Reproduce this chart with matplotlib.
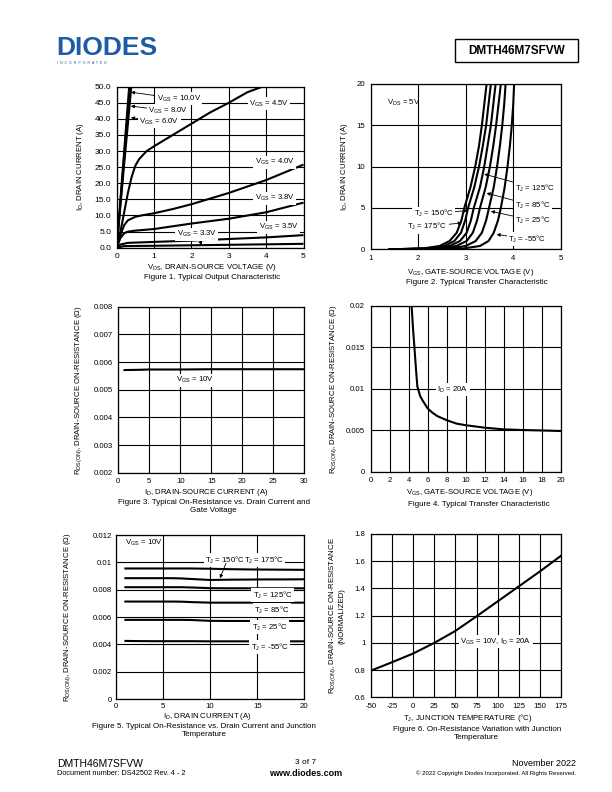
import numpy as np
import matplotlib
matplotlib.use('Agg')
import matplotlib.pyplot as plt
from matplotlib.patches import Rectangle

plt.rcParams['font.family'] = ['Liberation Sans', 'DejaVu Sans']
plt.rcParams['mathtext.fontset'] = 'custom'
plt.rcParams['mathtext.rm'] = 'Liberation Sans'
plt.rcParams['mathtext.it'] = 'Liberation Sans:italic'
plt.rcParams['mathtext.bf'] = 'Liberation Sans:bold'

# ---- Figure 1: output characteristic (VDS, ID) ----
f1_vgs10_v = [0, 0.1, 0.2, 0.3, 0.335]
f1_vgs10_i = [0, 15, 30, 45, 50]
f1_vgs8_v = [0, 0.1, 0.2, 0.3, 0.36]
f1_vgs8_i = [0, 14, 28, 42, 50]
f1_vgs6_v = [0, 0.1, 0.2, 0.3, 0.39]
f1_vgs6_i = [0, 13.2, 26, 38.5, 50]
f1_vgs45_v = [0, 0.1, 0.2, 0.3, 0.4, 0.5, 0.6, 0.8, 1.0, 1.5, 2.0, 2.5, 3.0, 3.5, 3.9]
f1_vgs45_i = [0, 5, 11, 17, 22, 25.5, 27.5, 30, 31.5, 35, 38.5, 42, 45, 48.3, 50]
f1_vgs40_v = [0, 0.1, 0.2, 0.3, 0.5, 0.7, 1.0, 1.5, 2.0, 3.0, 4.0, 5.0]
f1_vgs40_i = [0, 4, 7, 8.5, 9.6, 10.1, 10.7, 12, 13.5, 17, 21, 25.8]
f1_vgs38_v = [0, 0.1, 0.2, 0.3, 0.5, 1.0, 2.0, 3.0, 4.0, 5.0]
f1_vgs38_i = [0, 3, 4.5, 5, 5.3, 5.8, 7.5, 9, 11, 14]
f1_vgs35_v = [0, 0.1, 0.3, 1.0, 2.0, 3.0, 4.0, 5.0]
f1_vgs35_i = [0, 1, 1.5, 1.8, 2.2, 2.7, 3.2, 3.9]
f1_vgs33_v = [0, 0.2, 1.0, 3.0, 5.0]
f1_vgs33_i = [0, 0.5, 0.6, 0.9, 1.2]

# ---- Figure 2: transfer characteristic (VGS for each ID level) ----
f2_id = [0, 0.1, 0.4, 1, 2, 3.5, 5, 7.5, 10, 12.5, 15, 17.5, 20]
f2_vgs_175 = [1.40, 2.10, 2.45, 2.66, 2.81, 2.91, 2.97, 3.10, 3.20, 3.28, 3.34, 3.39, 3.44]
f2_vgs_150 = [1.40, 2.20, 2.55, 2.76, 2.90, 2.99, 3.05, 3.18, 3.28, 3.36, 3.43, 3.48, 3.53]
f2_vgs_125 = [1.40, 2.30, 2.66, 2.88, 3.02, 3.11, 3.17, 3.30, 3.39, 3.46, 3.53, 3.58, 3.63]
f2_vgs_85 = [1.40, 2.45, 2.80, 3.02, 3.15, 3.24, 3.30, 3.42, 3.51, 3.58, 3.64, 3.69, 3.74]
f2_vgs_25 = [1.40, 2.65, 3.00, 3.21, 3.34, 3.43, 3.49, 3.59, 3.66, 3.72, 3.77, 3.81, 3.84]
f2_vgs_m55 = [1.40, 2.95, 3.30, 3.48, 3.59, 3.68, 3.74, 3.82, 3.88, 3.93, 3.97, 4.00, 4.02]

# ---- Figure 3: RDS(on) vs ID ----
f3_id = [1, 3.5, 5, 10, 15, 20, 25, 30]
f3_rds = [0.00571, 0.00572, 0.00573, 0.00573, 0.00574, 0.00574, 0.00574, 0.00574]

# ---- Figure 4: RDS(on) vs VGS ----
f4_vgs = [4.3, 4.45, 4.6, 4.75, 4.9, 5.2, 5.5, 6.0, 6.5, 7, 8, 9, 10, 12, 14, 16, 18, 20]
f4_rds = [0.0200, 0.0172, 0.0149, 0.0125, 0.0103, 0.0091, 0.0085, 0.0076, 0.0071, 0.0067,
          0.0062, 0.0058, 0.0056, 0.0053, 0.0051, 0.00502, 0.00497, 0.0049]

# ---- Figure 5: RDS(on) vs ID and TJ ----
f5_id = [1, 2, 4, 6, 7, 8, 10, 12, 14, 16, 18, 20]
f5_rds_175 = [0.00955, 0.00955, 0.00955, 0.00955, 0.00955, 0.00955, 0.00953, 0.00950, 0.00948, 0.00947, 0.00946, 0.00945]
f5_rds_150 = [0.00884, 0.00884, 0.00884, 0.00884, 0.00882, 0.00878, 0.00871, 0.00873, 0.00874, 0.00875, 0.00875, 0.00876]
f5_rds_125 = [0.00818, 0.00818, 0.00818, 0.00818, 0.00818, 0.00816, 0.00811, 0.00810, 0.00810, 0.00810, 0.00810, 0.00810]
f5_rds_85 = [0.00713, 0.00713, 0.00713, 0.00713, 0.00712, 0.00709, 0.00705, 0.00705, 0.00705, 0.00705, 0.00705, 0.00705]
f5_rds_25 = [0.00579, 0.00579, 0.00579, 0.00579, 0.00579, 0.00578, 0.00572, 0.00571, 0.00571, 0.00571, 0.00571, 0.00571]
f5_rds_m55 = [0.00425, 0.00424, 0.00423, 0.00423, 0.00423, 0.00423, 0.00422, 0.00422, 0.00422, 0.00422, 0.00422, 0.00422]

# ---- Figure 6: normalized RDS(on) vs TJ ----
f6_tj = [-50, -25, 0, 25, 50, 75, 100, 125, 150, 175]
f6_rnorm = [0.796, 0.858, 0.922, 1.0, 1.088, 1.195, 1.305, 1.415, 1.525, 1.64]

W, H = 612, 792
fig = plt.figure(figsize=(W / 100, H / 100), dpi=100)
FS = 5.6
LW = 1.5


def px(x, y):
    return x / W, 1 - y / H


def make_axes(l, t, r, b, xlim, ylim, xticks, yticks, xlabels, ylabels, fs=FS, pad=4):
    ax = fig.add_axes([l / W, 1 - b / H, (r - l) / W, (b - t) / H])
    ax.set_xlim(*xlim)
    ax.set_ylim(*ylim)
    ax.set_xticks(xticks)
    ax.set_yticks(yticks)
    ax.set_xticklabels(xlabels)
    ax.set_yticklabels(ylabels)
    ax.tick_params(length=0, labelsize=fs, pad=pad)
    ax.grid(True, color='black', lw=0.8)
    ax.set_axisbelow(True)
    for s in ax.spines.values():
        s.set_linewidth(0.9)
    return ax


def ftext(x, y, s, **kw):
    kw.setdefault('fontsize', FS)
    kw.setdefault('ha', 'center')
    kw.setdefault('va', 'center')
    fig.text(*px(x, y), s, **kw)


WHITE = dict(facecolor='white', edgecolor='none', pad=1.0)
ARROW = dict(arrowstyle='-|>', color='black', lw=0.6, mutation_scale=5, shrinkA=0, shrinkB=0)

# Figure 1
ax1 = make_axes(116.7, 86.7, 303.5, 247.7, (0, 5), (0, 50), range(0, 6), np.arange(0, 51, 5),
                ['0', '1', '2', '3', '4', '5'], ['%.1f' % v for v in np.arange(0, 51, 5)], fs=6.0)
for v, i in [(f1_vgs10_v, f1_vgs10_i), (f1_vgs8_v, f1_vgs8_i), (f1_vgs6_v, f1_vgs6_i),
             (f1_vgs45_v, f1_vgs45_i), (f1_vgs40_v, f1_vgs40_i), (f1_vgs38_v, f1_vgs38_i),
             (f1_vgs35_v, f1_vgs35_i), (f1_vgs33_v, f1_vgs33_i)]:
    ax1.plot(v, i, color='black', lw=LW, solid_capstyle='butt')
ax1.annotate(r'V$_{\rm GS}$ = 10.0V', xy=(0.38, 48.3), xytext=(1.07, 46.2), fontsize=FS,
             va='center', bbox=WHITE, arrowprops=ARROW)
ax1.annotate(r'V$_{\rm GS}$ = 8.0V', xy=(0.38, 44.0), xytext=(0.85, 42.5), fontsize=FS,
             va='center', bbox=WHITE, arrowprops=ARROW)
ax1.annotate(r'V$_{\rm GS}$ = 6.0V', xy=(0.38, 40.4), xytext=(0.60, 39.1), fontsize=FS,
             va='center', bbox=WHITE, arrowprops=ARROW)
ax1.text(3.54, 44.8, r'V$_{\rm GS}$ = 4.5V', fontsize=FS, va='center', bbox=WHITE)
ax1.text(3.69, 26.5, r'V$_{\rm GS}$ = 4.0V', fontsize=FS, va='center', bbox=WHITE)
ax1.text(3.69, 15.4, r'V$_{\rm GS}$ = 3.8V', fontsize=FS, va='center', bbox=WHITE)
ax1.text(3.80, 6.4, r'V$_{\rm GS}$ = 3.5V', fontsize=FS, va='center', bbox=WHITE)
ax1.annotate(r'V$_{\rm GS}$ = 3.3V', xy=(2.28, 0.8), xytext=(1.61, 4.2), fontsize=FS,
             va='center', bbox=WHITE, arrowprops=ARROW)
ftext(80.7, 167, r'I$_{\rm D}$, DRAIN CURRENT (A)', rotation=90)
ftext(212, 267.7, r'V$_{\rm DS}$, DRAIN-SOURCE VOLTAGE (V)')
ftext(211.7, 277.3, 'Figure 1. Typical Output Characteristic', fontsize=5.8)

# Figure 2
ax2 = make_axes(370.7, 84, 560.7, 249.3, (1, 5), (0, 20), range(1, 6), range(0, 21, 5),
                ['1', '2', '3', '4', '5'], ['0', '5', '10', '15', '20'])
for v in [f2_vgs_175, f2_vgs_150, f2_vgs_125, f2_vgs_85, f2_vgs_25, f2_vgs_m55]:
    ax2.plot(v, f2_id, color='black', lw=LW)
ax2.text(1.34, 17.7, r'V$_{\rm DS}$ = 5V', fontsize=FS, va='center')
ax2.annotate('T$_{\\rm J}$ = 125°C', xy=(3.39, 9.1), xytext=(4.04, 7.4), fontsize=FS,
             va='center', bbox=WHITE, arrowprops=ARROW)
ax2.annotate('T$_{\\rm J}$ = 85°C', xy=(3.44, 6.8), xytext=(4.04, 5.3), fontsize=FS,
             va='center', bbox=WHITE, arrowprops=ARROW)
ax2.annotate('T$_{\\rm J}$ = 25°C', xy=(3.53, 4.6), xytext=(4.04, 3.5), fontsize=FS,
             va='center', bbox=WHITE, arrowprops=ARROW)
ax2.annotate('T$_{\\rm J}$ = -55°C', xy=(3.65, 1.8), xytext=(3.90, 1.25), fontsize=FS,
             va='center', bbox=WHITE, arrowprops=ARROW)
ax2.annotate('T$_{\\rm J}$ = 150°C', xy=(3.04, 4.7), xytext=(2.74, 4.3), fontsize=FS,
             ha='right', va='center', bbox=WHITE, arrowprops=ARROW)
ax2.annotate('T$_{\\rm J}$ = 175°C', xy=(2.92, 3.2), xytext=(2.61, 2.74), fontsize=FS,
             ha='right', va='center', bbox=WHITE, arrowprops=ARROW)
ftext(345, 166.6, r'I$_{\rm D}$, DRAIN CURRENT (A)', rotation=90)
ftext(470.3, 272.3, r'V$_{\rm GS}$, GATE-SOURCE VOLTAGE (V)')
ftext(477, 282.3, 'Figure 2. Typical Transfer Characteristic', fontsize=5.8)

# Figure 3
ax3 = make_axes(118.3, 306.7, 304.3, 472.7, (0, 30), (0.002, 0.008), range(0, 31, 5),
                np.arange(0.002, 0.0081, 0.001), [str(v) for v in range(0, 31, 5)],
                ['0.002', '0.003', '0.004', '0.005', '0.006', '0.007', '0.008'])
ax3.plot(f3_id, f3_rds, color='black', lw=LW)
ax3.text(9.3, 0.00535, r'V$_{\rm GS}$ = 10V', fontsize=FS, va='center', bbox=WHITE)
ftext(78.3, 389.7, r'R$_{\rm DS(ON)}$, DRAIN-SOURCE ON-RESISTANCE (Ω)', rotation=90)
ftext(205.8, 492.3, r'I$_{\rm D}$, DRAIN-SOURCE CURRENT (A)')
ftext(213.7, 506.2, 'Figure 3. Typical On-Resistance vs. Drain Current and\nGate Voltage',
      fontsize=5.8, linespacing=1.15)

# Figure 4
ax4 = make_axes(370.7, 305.7, 561, 471.7, (0, 20), (0, 0.02), range(0, 21, 2),
                np.arange(0, 0.0201, 0.005), [str(v) for v in range(0, 21, 2)],
                ['0', '0.005', '0.01', '0.015', '0.02'])
ax4.plot(f4_vgs, f4_rds, color='black', lw=LW)
ax4.text(7.0, 0.0099, r'I$_{\rm D}$ = 20A', fontsize=FS, va='center', bbox=WHITE)
ftext(334, 388.7, r'R$_{\rm DS(ON)}$, DRAIN-SOURCE ON-RESISTANCE (Ω)', rotation=90)
ftext(469.5, 492.7, r'V$_{\rm GS}$, GATE-SOURCE VOLTAGE (V)')
ftext(478.8, 504, 'Figure 4. Typical Transfer Characteristic', fontsize=5.8)

# Figure 5
ax5 = make_axes(116, 535, 304.3, 699, (0, 20), (0, 0.012), range(0, 21, 5),
                np.arange(0, 0.0121, 0.002), ['0', '5', '10', '15', '20'],
                ['0', '0.002', '0.004', '0.006', '0.008', '0.01', '0.012'], pad=3)
for r in [f5_rds_175, f5_rds_150, f5_rds_125, f5_rds_85, f5_rds_25, f5_rds_m55]:
    ax5.plot(f5_id, r, color='black', lw=LW)
ax5.text(0.96, 0.0114, r'V$_{\rm GS}$ = 10V', fontsize=FS, va='center')
ax5.text(9.45, 0.01017, 'T$_{\\rm J}$ = 150°C', fontsize=FS, va='center', bbox=WHITE)
ax5.annotate('', xy=(11.04, 0.00883), xytext=(11.68, 0.00993), arrowprops=ARROW)
ax5.text(13.6, 0.01017, 'T$_{\\rm J}$ = 175°C', fontsize=FS, va='center', bbox=WHITE)
ax5.text(14.5, 0.00761, 'T$_{\\rm J}$ = 125°C', fontsize=FS, va='center', bbox=WHITE)
ax5.text(14.7, 0.00651, 'T$_{\\rm J}$ = 85°C', fontsize=FS, va='center', bbox=WHITE)
ax5.text(14.4, 0.00524, 'T$_{\\rm J}$ = 25°C', fontsize=FS, va='center', bbox=WHITE)
ax5.text(14.3, 0.00378, 'T$_{\\rm J}$ = -55°C', fontsize=FS, va='center', bbox=WHITE)
ftext(67.3, 617, r'R$_{\rm DS(ON)}$, DRAIN-SOURCE ON-RESISTANCE (Ω)', rotation=90)
ftext(207.8, 716.5, r'I$_{\rm D}$, DRAIN CURRENT (A)')
ftext(204, 730.8, 'Figure 5. Typical On-Resistance vs. Drain Current and Junction\nTemperature',
      fontsize=5.8, linespacing=1.15)

# Figure 6
ax6 = make_axes(371, 534, 561, 697.3, (-50, 175), (0.6, 1.8), range(-50, 176, 25),
                np.arange(0.6, 1.81, 0.2), [str(v) for v in range(-50, 176, 25)],
                ['0.6', '0.8', '1', '1.2', '1.4', '1.6', '1.8'])
ax6.plot(f6_tj, f6_rnorm, color='black', lw=LW)
ax6.text(55.4, 1.009, r'V$_{\rm GS}$ = 10V, I$_{\rm D}$ = 20A', fontsize=FS, va='center', bbox=WHITE)
ftext(336, 615.6, r'R$_{\rm DS(ON)}$, DRAIN-SOURCE ON-RESISTANCE' + '\n(NORMALIZED)', rotation=90,
      linespacing=1.1)
ftext(467.7, 717.7, 'T$_{\\rm J}$, JUNCTION TEMPERATURE (°C)')
ftext(476.7, 733.3, 'Figure 6. On-Resistance Variation with Junction\nTemperature',
      fontsize=5.8, linespacing=1.15)

# header
ftext(56, 55, 'DIODES', fontsize=19, fontweight='bold', color='#1d5ba6', ha='left', va='baseline')
ftext(57, 62.5, 'I  N  C  O  R  P  O  R  A  T  E  D', fontsize=2.6, color='#1d5ba6', ha='left')
fig.add_artist(Rectangle(px(455, 62), 123 / W, 23 / H, transform=fig.transFigure,
                         fill=False, edgecolor='black', lw=1.0))
ftext(516.5, 50.5, 'DMTH46M7SFVW', fontsize=8.5, fontweight='bold')

# footer
ftext(57, 764, 'DMTH46M7SFVW', fontsize=7.5, ha='left')
ftext(57, 773.5, 'Document number: DS42502 Rev. 4 - 2', fontsize=5.3, ha='left')
ftext(306, 763, '3 of 7', fontsize=6)
ftext(306, 773, 'www.diodes.com', fontsize=6.5, fontweight='bold')
ftext(576, 764, 'November 2022', fontsize=6.5, ha='right')
ftext(576, 773, '© 2022 Copyright Diodes Incorporated. All Rights Reserved.', fontsize=4.3, ha='right')

fig.savefig('out.png', dpi=100)
